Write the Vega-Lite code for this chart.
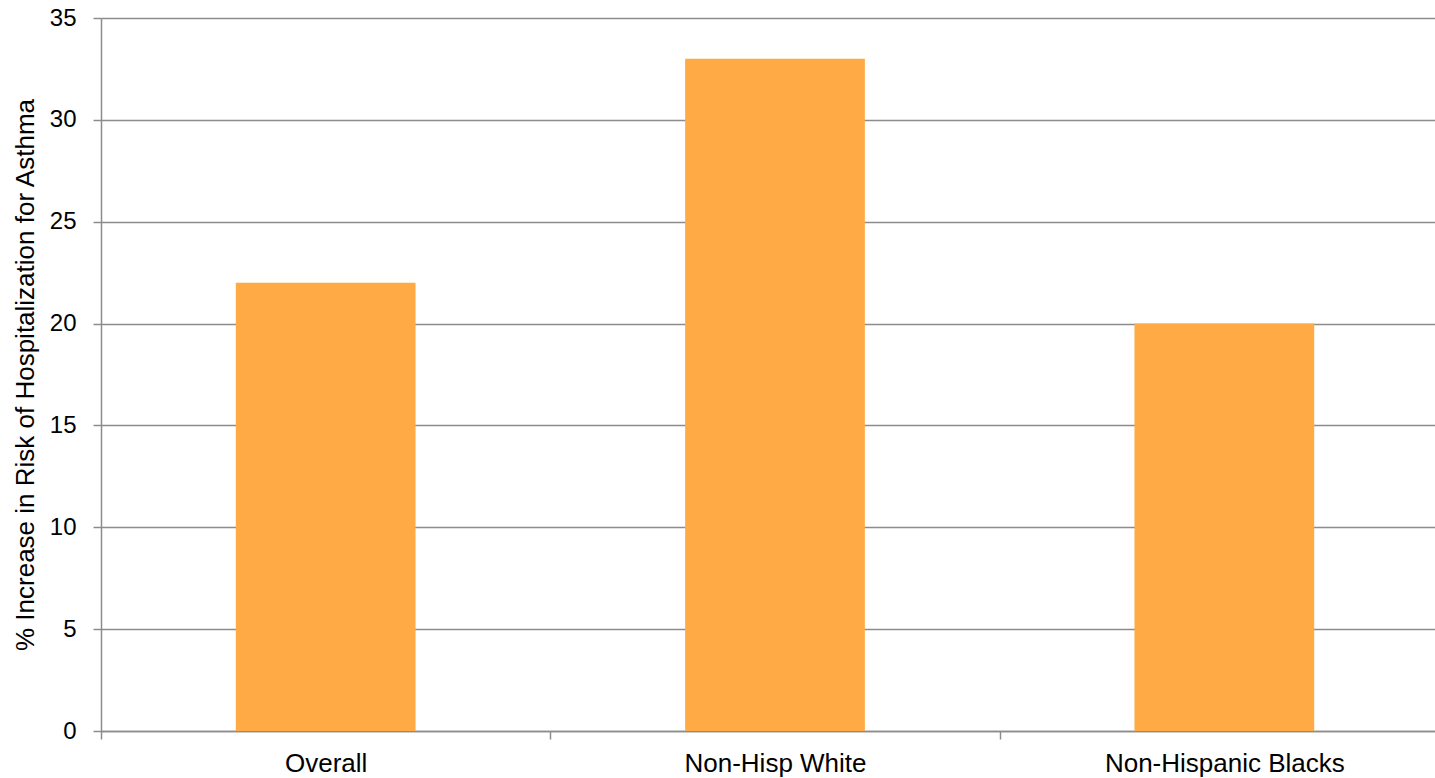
{
  "$schema": "https://vega.github.io/schema/vega-lite/v6.json",
  "autosize": "none",
  "width": 1333,
  "height": 713,
  "padding": {"left": 101, "top": 18, "right": 1, "bottom": 47},
  "background": "white",
  "config": {
    "view": {"stroke": null},
    "font": "Liberation Sans"
  },
  "data": {
    "values": [
      {"group": "Overall", "value": 22},
      {"group": "Non-Hisp White", "value": 33},
      {"group": "Non-Hispanic Blacks", "value": 20}
    ]
  },
  "mark": {"type": "bar", "color": "#FFAA44", "width": {"band": 0.4}},
  "encoding": {
    "x": {
      "field": "group",
      "type": "nominal",
      "sort": null,
      "scale": {"paddingInner": 0, "paddingOuter": 0, "range": [0, 1348]},
      "axis": {
        "title": null,
        "labelAngle": 0,
        "tickBand": "extent",
        "tickSize": 8,
        "labelPadding": 11,
        "labelLimit": 400,
        "grid": false,
        "labelFont": "Liberation Sans",
        "labelFontSize": 26,
        "labelColor": "#000000",
        "domainColor": "#8c8c8c",
        "tickColor": "#8c8c8c",
        "domainWidth": 1.5,
        "tickWidth": 1.5
      }
    },
    "y": {
      "field": "value",
      "type": "quantitative",
      "scale": {"domain": [0, 35], "nice": false},
      "axis": {
        "title": "% Increase in Risk of Hospitalization for Asthma",
        "values": [0, 5, 10, 15, 20, 25, 30, 35],
        "tickSize": 8,
        "labelPadding": 17,
        "titlePadding": 11,
        "grid": true,
        "labelFont": "Liberation Sans",
        "labelFontSize": 24,
        "labelColor": "#000000",
        "titleFont": "Liberation Sans",
        "titleFontSize": 26,
        "titleFontWeight": "normal",
        "titleColor": "#000000",
        "domainColor": "#8c8c8c",
        "tickColor": "#8c8c8c",
        "gridColor": "#8c8c8c",
        "domainWidth": 1.5,
        "tickWidth": 1.5,
        "gridWidth": 1.5
      }
    }
  }
}
